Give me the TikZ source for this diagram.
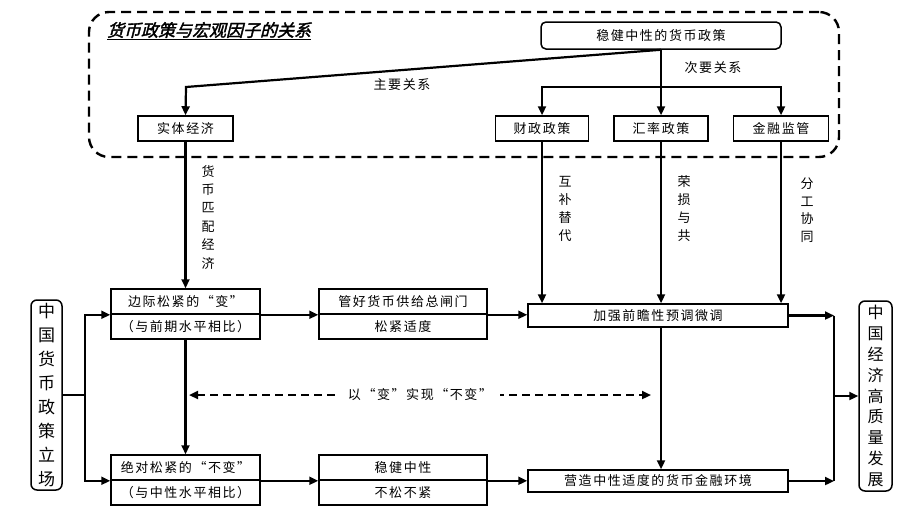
\documentclass[tikz,border=0pt]{standalone}
\usepackage{fontspec}
\setmainfont{Liberation Sans}
\newfontfamily\cjk[LetterSpace=12]{Noto Sans CJK SC}
\newfontfamily\cjkplain{Noto Sans CJK SC}
\newfontfamily\cjktitle[FakeSlant=0.25,FakeBold=2]{Noto Sans CJK SC}
\usetikzlibrary{arrows.meta,calc}
\tikzset{
  box/.style={draw, line width=1.5pt, inner sep=0pt, font=\cjk\fontsize{13}{15}\selectfont},
  rbox/.style={box, rounded corners=5pt},
  conn/.style={line width=2.2pt},
  arr/.style={conn, -{Triangle[length=9pt,width=8pt]}},
  lbl/.style={font=\cjk\fontsize{13}{15}\selectfont, inner sep=0pt},
  vlbl/.style={font=\cjkplain\fontsize{13}{18.4}\selectfont, align=center, inner sep=0pt},
  sidebox/.style={draw, line width=1.5pt, rounded corners=6pt, inner sep=0pt, align=center},
  frame/.style={draw, line width=2.4pt, dash pattern=on 10pt off 6pt, rounded corners=20pt, inner sep=0pt},
  dasharr/.style={line width=2.2pt, dash pattern=on 8pt off 5pt, {Triangle[length=9pt,width=8pt]}-{Triangle[length=9pt,width=8pt]}}
}
\begin{document}
\begin{tikzpicture}[x=1pt,y=-1pt]
\useasboundingbox[fill=white] (0,0) rectangle (910,517);

% dashed frame and title
\node[frame, minimum width=750, minimum height=145] (fr) at (464,84.5) {};
\node[font=\cjktitle\fontsize{17}{19}\selectfont, inner sep=0pt] (title) at (209,31) {\underline{货币政策与宏观因子的关系}};

% top boxes
\node[rbox, minimum width=240, minimum height=27] (wj) at (661,35.5) {稳健中性的货币政策};
\node[box, minimum width=95, minimum height=25] (st) at (185.5,128.5) {实体经济};
\node[box, minimum width=93, minimum height=25] (cz) at (542,128.5) {财政政策};
\node[box, minimum width=94, minimum height=25] (hl) at (661,128.5) {汇率政策};
\node[box, minimum width=95, minimum height=25] (jr) at (781,128.5) {金融监管};

% middle row
\node[box, minimum width=149, minimum height=25] (b1t) at (185.5,301.5) {边际松紧的“变”};
\node[box, minimum width=149, minimum height=25] (b1b) at (185.5,326.5) {（与前期水平相比）};
\node[box, minimum width=168, minimum height=25] (b2t) at (403,301.5) {管好货币供给总闸门};
\node[box, minimum width=168, minimum height=25] (b2b) at (403,326.5) {松紧适度};
\node[box, minimum width=260, minimum height=23] (jq) at (658,315.5) {加强前瞻性预调微调};

% bottom row
\node[box, minimum width=149, minimum height=25] (b3t) at (185.5,467.5) {绝对松紧的“不变”};
\node[box, minimum width=149, minimum height=25] (b3b) at (185.5,492.5) {（与中性水平相比）};
\node[box, minimum width=168, minimum height=25] (b4t) at (403,467.5) {稳健中性};
\node[box, minimum width=168, minimum height=25] (b4b) at (403,492.5) {不松不紧};
\node[box, minimum width=260, minimum height=22] (yz) at (658,481) {营造中性适度的货币金融环境};

% side boxes
\node[sidebox, minimum width=31, minimum height=190, font=\cjkplain\fontsize{17}{24}\selectfont] (zgl) at (46.5,395)
  {中\\国\\货\\币\\政\\策\\立\\场};
\node[sidebox, minimum width=33, minimum height=190, font=\cjkplain\fontsize{16}{20.9}\selectfont] (gjl) at (875.5,396)
  {中\\国\\经\\济\\高\\质\\量\\发\\展};

% labels
\node[lbl] (zy) at (402,85) {主要关系};
\node[lbl] (cy) at (713,68) {次要关系};
\node[vlbl] (hbpp) at (208,217) {货\\币\\匹\\配\\经\\济};
\node[vlbl, font=\cjkplain\fontsize{13}{18}\selectfont] (hbtd) at (565,209) {互\\补\\替\\代};
\node[vlbl, font=\cjkplain\fontsize{13}{18}\selectfont] (rsyg) at (684,209) {荣\\损\\与\\共};
\node[vlbl, font=\cjkplain\fontsize{13}{17.5}\selectfont] (fgxt) at (807,210) {分\\工\\协\\同};

% coordinates
\coordinate (mainbend) at (186,87);
\coordinate (hbr) at (661,87);
\coordinate (lj) at (85,395);
\coordinate (rj) at (834,396);
\coordinate (dl) at (189,395);
\coordinate (dr) at (651,395);

% top connectors
\draw[arr] (wj.south) -- (mainbend) -- (st.north);
\draw[conn] (wj.south) -- (hbr);
\draw[arr] (hbr) -| (cz.north);
\draw[arr] (hbr) -| (jr.north);
\draw[arr] (hbr) -- (hl.north);

% down to middle row
\draw[arr] (st.south) -- (b1t.north);
\draw[arr] (cz.south) -- (cz.south |- jq.north);
\draw[arr] (hl.south) -- (hl.south |- jq.north);
\draw[arr] (jr.south) -- (jr.south |- jq.north);

% row arrows
\draw[arr] (b1t.south east) -- (b2t.south west);
\draw[arr] (b2t.south east) -- (b2t.south east -| jq.west);
\draw[arr] (b3t.south east) -- (b4t.south west);
\draw[arr] (b4t.south east) -- (b4t.south east -| yz.west);

% vertical arrows
\draw[arr] (b1b.south) -- (b3t.north);
\draw[arr] (hl.south |- jq.south) -- (hl.south |- yz.north);

% dashed double arrow
\draw[dasharr] (dl) -- node[lbl, fill=white, inner xsep=8pt, inner ysep=3pt] (bh) {以“变”实现“不变”} (dr);

% left fan-out
\draw[conn] (zgl.east) -- (lj);
\draw[arr] (lj) |- (b1t.south west);
\draw[arr] (lj) |- (b3t.south west);

% right fan-in
\draw[arr] (jq.east) -- (jq.east -| rj);
\draw[arr] (yz.east) -- (yz.east -| rj);
\draw[conn] (rj |- jq.east) -- (rj |- yz.east);
\draw[arr] (rj) -- (gjl.west);
\end{tikzpicture}
\end{document}
